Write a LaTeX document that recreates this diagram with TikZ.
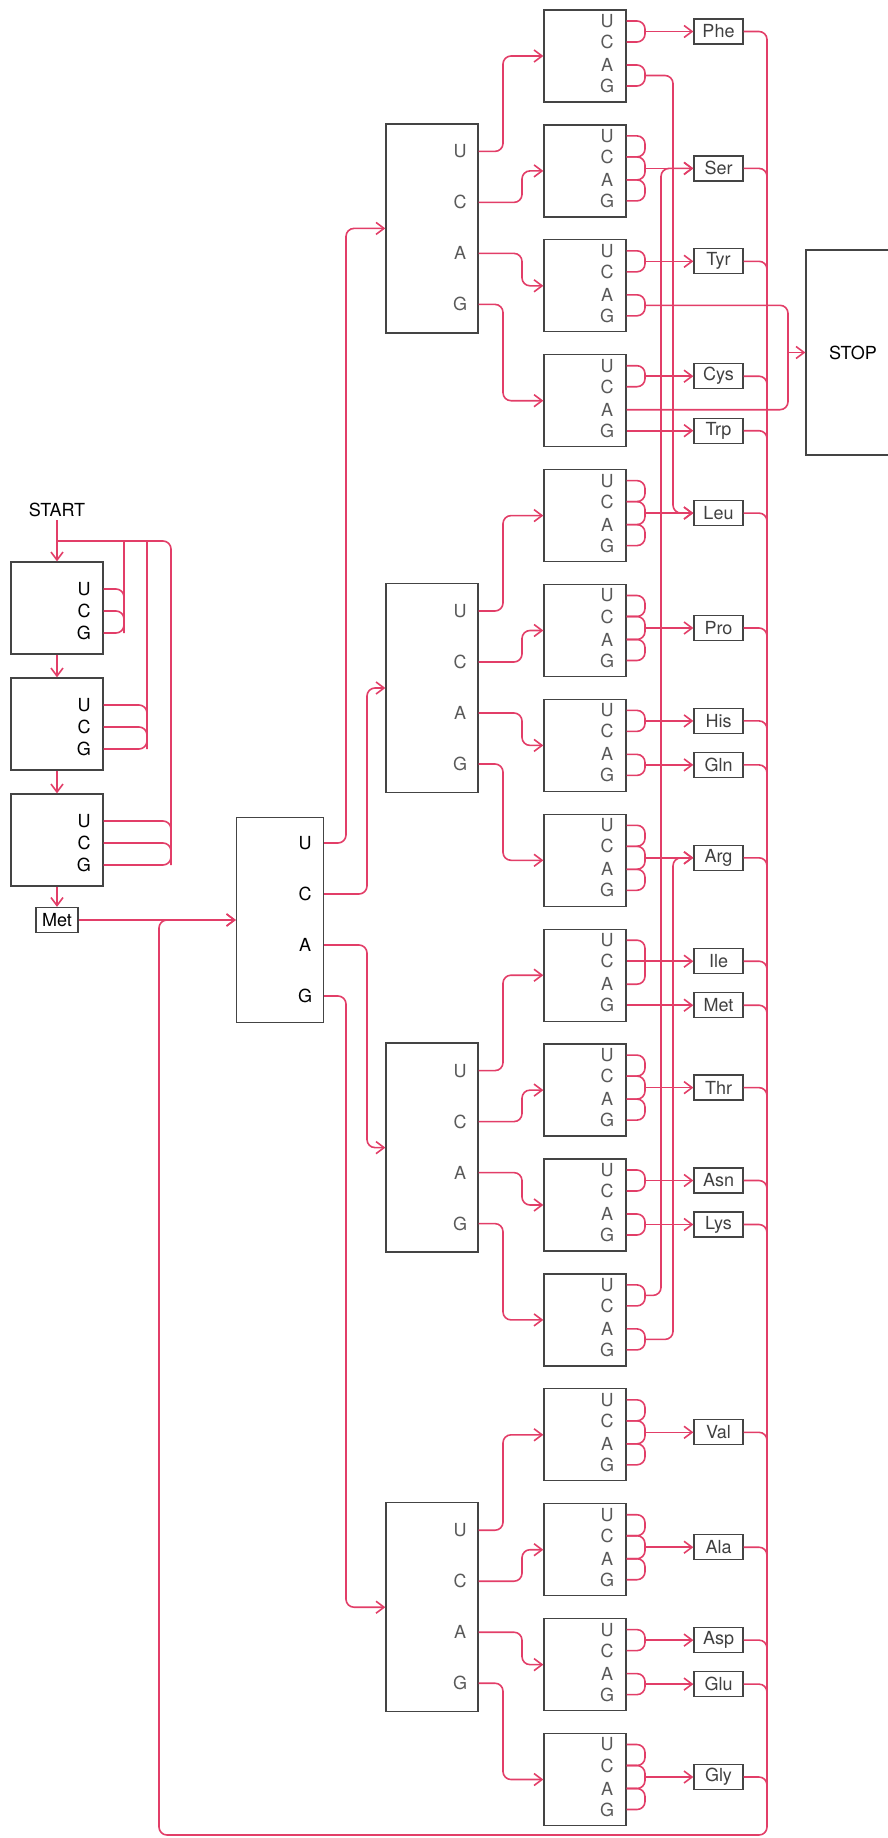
\documentclass[tikz,border=0pt]{standalone}
\usepackage{fontspec}
\setmainfont{TeX Gyre Heros}
\usepackage{tikz}
\usetikzlibrary{arrows.meta,calc}
\definecolor{CodonRed}{RGB}{226,62,104}
\definecolor{FrameGray}{RGB}{68,68,68}
\tikzset{
  wire/.style={draw=CodonRed,line width=1.6pt,rounded corners=8pt},
  frame/.style={draw=FrameGray,line width=1.3pt,inner sep=0pt},
  startbox/.style={frame,minimum width=92pt,minimum height=92pt},
  firstbox/.style={frame,minimum width=87pt,minimum height=205pt},
  secondbox/.style={frame,minimum width=92pt,minimum height=209pt},
  thirdbox/.style={frame,minimum width=82pt,minimum height=92pt},
  aabox/.style={frame,minimum width=49pt,minimum height=25pt,text=black!75},
  base/.style={inner sep=0pt},
  paleletter/.style={base,text=black!65}
}

\begin{document}
\begin{tikzpicture}[x=1pt,y=-1pt,>={Straight Barb[length=8pt,width=12pt]},font=\fontsize{18}{20}\selectfont]
  \useasboundingbox (0,0) rectangle (888,1838);
  \coordinate (k1) at (124,541);
  \coordinate (k2) at (147,541);
  \coordinate (k3) at (171,541);
  \coordinate (r1) at (346,0);
  \coordinate (r2) at (367,0);
  \coordinate (q1) at (503,0);
  \coordinate (q2) at (522,0);
  \coordinate (bk) at (645,0);
  \coordinate (serx) at (661,0);
  \coordinate (leux) at (673,0);
  \coordinate (stopx) at (788,0);
  \coordinate (bus) at (767,0);
  \coordinate (back) at (159,1835);

  \node (start) at (57,510) {START};
  \foreach \bx/\y in {1/608,2/724,3/840} {
    \node[startbox] (s\bx) at (57,\y) {};
    \foreach \l/\dy in {U/-19,C/3,G/25}
      \node[base] (s\bx\l) at ($(s\bx.center)+(27,\dy)$) {\l};
  }
  \node[aabox,minimum width=42pt,text=black] (met0) at (57,920) {Met};
  \draw[wire,->] (start) -- (s1);
  \draw[wire,->] (s1) -- (s2);
  \draw[wire,->] (s2) -- (s3);
  \draw[wire,->] (s3) -- (met0);
  \foreach \bx in {1,2,3} {
    \draw[wire] (s\bx.east |- s\bx U) -| (k\bx |- s\bx C);
    \draw[wire] (s\bx.east |- s\bx C) -| (k\bx |- s\bx G);
  }
  \draw[wire] (s1.east |- s1G) -| (k1);
  \draw[wire] (s2.east |- s2G) -| (k2);
  \draw[wire] (s3.east |- s3G) -| (k3) -- (start |- k3);

  \node[firstbox] (l1) at (280,920) {};
  \foreach \l/\dy in {U/-77,C/-26,A/25,G/76}
    \node[base] (l1\l) at ($(l1.center)+(25,\dy)$) {\l};
  \draw[wire,->] (met0) -- (l1);

  \foreach \g [count=\k from 0] in {U,C,A,G} {
    \node[secondbox] (l2\g) at (432,{228.4+459.6*\k}) {};
    \foreach \l/\dy in {U/-77,C/-26,A/25,G/76}
      \node[paleletter] (l2\g\l) at ($(l2\g.center)+(28,\dy)$) {\l};
  }
  \foreach \g/\r in {U/r1,C/r2,A/r2,G/r1}
    \draw[wire,->] (l1.east |- l1\g) -| (\r |- l2\g) -- (l2\g);

  \foreach \i in {1,...,16} {
    \node[thirdbox] (c\i) at (585,{56+114.9*(\i-1)}) {};
    \foreach \l/\dy in {U/-35,C/-14,A/9,G/30}
      \node[paleletter] (c\i\l) at ($(c\i.center)+(22,\dy)$) {\l};
  }
  \foreach \g [count=\k from 0] in {U,C,A,G}
    \foreach \l/\r [count=\j] in {U/q1,C/q2,A/q2,G/q1} {
      \pgfmathtruncatemacro\i{4*\k+\j}
      \draw[wire,->] (l2\g.east |- l2\g\l) -| (\r |- c\i) -- (c\i);
    }

  \foreach \i/\p/\q in {1/U/C,1/A/G,2/U/C,2/C/A,2/A/G,3/U/C,3/A/G,4/U/C,
      5/U/C,5/C/A,5/A/G,6/U/C,6/C/A,6/A/G,7/U/C,7/A/G,8/U/C,8/C/A,8/A/G,9/U/A,
      10/U/C,10/C/A,10/A/G,11/U/C,11/A/G,12/U/C,12/A/G,13/U/C,13/C/A,13/A/G,
      14/U/C,14/C/A,14/A/G,15/U/C,15/A/G,16/U/C,16/C/A,16/A/G}
    \draw[wire] (c\i.east |- c\i\p) -| (bk |- c\i\q) -- (c\i.east |- c\i\q);

  \foreach \n/\i/\dy in {Phe/1/-24.5,Ser/2/-2.5,Tyr/3/-24.5,Cys/4/-24.5,Trp/4/30,
      Leu/5/-2.5,Pro/6/-2.5,His/7/-24.5,Gln/7/19.5,Arg/8/-2.5,Ile/9/-14,Met/9/30,
      Thr/10/-2.5,Asn/11/-24.5,Lys/11/19.5,Val/13/-2.5,Ala/14/-2.5,Asp/15/-24.5,
      Glu/15/19.5,Gly/16/-2.5}
    \node[aabox] (\n) at ($(c\i.center)+(133.5,\dy)$) {\n};
  \foreach \n in {Phe,Ser,Tyr,Cys,Leu,Pro,His,Gln,Arg,Thr,Asn,Lys,Val,Ala,Asp,Glu,Gly}
    \draw[wire,->] (bk |- \n) -- (\n);
  \foreach \n/\i in {Trp/4,Ile/9,Met/9}
    \draw[wire,->] (c\i.east |- \n) -- (\n);

  \coordinate (c1ag) at ($(bk |- c1.center)+(0,19.5)$);
  \coordinate (c3ag) at ($(bk |- c3.center)+(0,19.5)$);
  \coordinate (c12uc) at ($(bk |- c12.center)+(0,-24.5)$);
  \coordinate (c12ag) at ($(bk |- c12.center)+(0,19.5)$);
  \draw[wire,->] (c1ag) -| (leux |- Leu) -- (Leu);
  \draw[wire,->] (c12uc) -| (serx |- Ser) -- (Ser);
  \draw[wire,->] (c12ag) -| (leux |- Arg) -- (Arg);

  \node[frame,minimum width=94pt,minimum height=205pt] (stop) at (853,352.5) {STOP};
  \draw[wire] (c3ag) -| (stopx |- c4A) -- (c4.east |- c4A);
  \draw[wire,->] (stopx |- stop) -- (stop);

  \foreach \n in {Ser,Tyr,Cys,Trp,Leu,Pro,His,Gln,Arg,Ile,Met,Thr,Asn,Lys,Val,Ala,Asp,Glu,Gly}
    \draw[wire] (\n.east) -| ($(bus |- \n)+(0,18)$);
  \draw[wire,->] (Phe.east) -| (bus |- back) -| (back |- l1) -- (l1);
\end{tikzpicture}
\end{document}
